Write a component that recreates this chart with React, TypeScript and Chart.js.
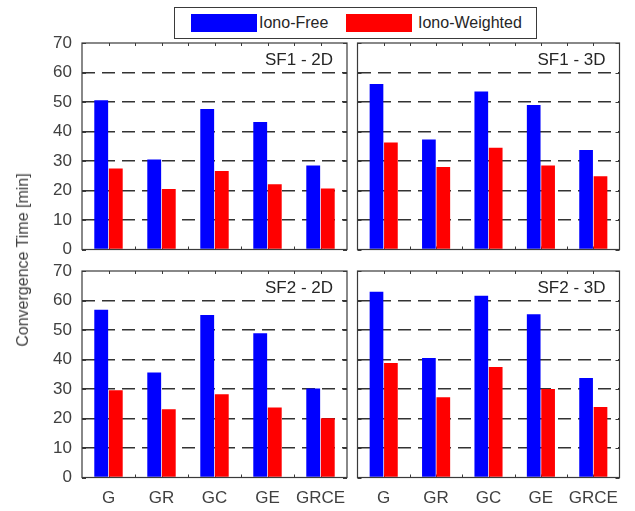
import React, { useEffect, useRef } from "react";
import { Chart, registerables } from "chart.js";

Chart.register(...registerables);

// ---------- data ----------
const categories = ["G", "GR", "GC", "GE", "GRCE"];
const seriesNames = ["Iono-Free", "Iono-Weighted"];
const yTickValues = [0, 10, 20, 30, 40, 50, 60, 70];
const panelTitles = ["SF1 - 2D", "SF1 - 3D", "SF2 - 2D", "SF2 - 3D"];

const sf1_2d_free = [50.6, 30.5, 47.6, 43.2, 28.5];
const sf1_2d_weighted = [27.5, 20.5, 26.6, 22.1, 20.7];
const sf1_3d_free = [56.1, 37.3, 53.6, 49.0, 33.7];
const sf1_3d_weighted = [36.3, 28.0, 34.5, 28.5, 24.8];
const sf2_2d_free = [56.9, 35.6, 55.1, 48.9, 30.2];
const sf2_2d_weighted = [29.6, 23.1, 28.2, 23.7, 20.1];
const sf2_3d_free = [63.0, 40.5, 61.6, 55.3, 33.7];
const sf2_3d_weighted = [38.8, 27.2, 37.5, 30.0, 23.9];

const yAxisTitle = "Convergence Time [min]";

// ---------- layout ----------
const W = 635;
const H = 511;
const FONT = "'Liberation Sans', Arial, Helvetica, sans-serif";
const BLUE = "#0000ff";
const RED = "#ff0000";
const AXIS = "#3a3a3a";
const TEXT = "#404040";

type Panel = {
  title: string;
  free: number[];
  weighted: number[];
  left: number;
  top: number;
  right: number;
  bottom: number;
  showY: boolean;
  showX: boolean;
};

const panels: Panel[] = [
  { title: panelTitles[0], free: sf1_2d_free, weighted: sf1_2d_weighted, left: 82, top: 43, right: 347, bottom: 249.5, showY: true, showX: false },
  { title: panelTitles[1], free: sf1_3d_free, weighted: sf1_3d_weighted, left: 357.5, top: 43, right: 619.5, bottom: 249.5, showY: false, showX: false },
  { title: panelTitles[2], free: sf2_2d_free, weighted: sf2_2d_weighted, left: 82, top: 271, right: 347, bottom: 477.5, showY: true, showX: true },
  { title: panelTitles[3], free: sf2_3d_free, weighted: sf2_3d_weighted, left: 357.5, top: 271, right: 619.5, bottom: 477.5, showY: false, showX: true },
];

const decorPlugin = {
  id: "panelDecor",
  beforeDatasetsDraw(chart: any) {
    const { ctx, chartArea } = chart;
    const x = chart.scales.x;
    const y = chart.scales.y;
    ctx.save();
    ctx.strokeStyle = AXIS;
    ctx.lineWidth = 1;
    const n = categories.length;
    const xs: number[] = [];
    for (let i = 0; i < n; i++) {
      xs.push(x.getPixelForValue(i));
      if (i < n - 1) xs.push((x.getPixelForValue(i) + x.getPixelForValue(i + 1)) / 2);
    }
    ctx.beginPath();
    xs.forEach((px) => {
      const p = Math.round(px) + 0.5;
      ctx.moveTo(p, chartArea.bottom);
      ctx.lineTo(p, chartArea.bottom - 3);
      ctx.moveTo(p, chartArea.top);
      ctx.lineTo(p, chartArea.top + 3);
    });
    yTickValues.forEach((v) => {
      const py = Math.round(y.getPixelForValue(v)) + 0.5;
      ctx.moveTo(chartArea.left, py);
      ctx.lineTo(chartArea.left + 4, py);
      ctx.moveTo(chartArea.right, py);
      ctx.lineTo(chartArea.right - 4, py);
    });
    ctx.stroke();
    ctx.restore();
  },
  afterDraw(chart: any, _args: any, opts: any) {
    const { ctx, chartArea } = chart;
    ctx.save();
    ctx.strokeStyle = AXIS;
    ctx.lineWidth = 1.2;
    ctx.strokeRect(chartArea.left, chartArea.top, chartArea.right - chartArea.left, chartArea.bottom - chartArea.top);
    ctx.fillStyle = "#262626";
    ctx.font = `17px ${FONT}`;
    ctx.textAlign = "right";
    ctx.textBaseline = "middle";
    ctx.fillText(opts.title, chartArea.right - 14, chartArea.top + 17);
    ctx.restore();
  },
};

function PanelChart({ p }: { p: Panel }) {
  const ref = useRef<HTMLCanvasElement | null>(null);
  useEffect(() => {
    if (!ref.current) return;
    const yw = p.showY ? 40 : 0;
    const xh = p.showX ? 30 : 0;
    const chart = new Chart(ref.current, {
      type: "bar",
      data: {
        labels: categories,
        datasets: [
          { label: seriesNames[0], data: p.free, backgroundColor: BLUE, borderWidth: 0, categoryPercentage: 0.55, barPercentage: 0.95 },
          { label: seriesNames[1], data: p.weighted, backgroundColor: RED, borderWidth: 0, categoryPercentage: 0.55, barPercentage: 0.95 },
        ],
      },
      options: {
        responsive: false,
        animation: false,
        events: [],
        layout: {
          padding: { left: p.left - yw, top: p.top, right: W - p.right, bottom: H - p.bottom - xh },
        },
        plugins: {
          legend: { display: false },
          tooltip: { enabled: false },
          title: { display: false },
          panelDecor: { title: p.title },
        } as any,
        scales: {
          x: {
            grid: { display: false, drawTicks: false },
            border: { display: false },
            ticks: {
              display: p.showX,
              padding: 11,
              color: TEXT,
              font: { size: 17, family: FONT },
              maxRotation: 0,
              minRotation: 0,
              autoSkip: false,
            },
            afterFit: (s: any) => {
              s.height = xh;
            },
          },
          y: {
            min: 0,
            max: 70,
            afterBuildTicks: (s: any) => {
              s.ticks = yTickValues.map((v) => ({ value: v }));
            },
            ticks: { display: p.showY, padding: 10, color: TEXT, font: { size: 17, family: FONT } },
            grid: {
              drawTicks: false,
              lineWidth: 1.5,
              color: (c: any) => (c.tick && (c.tick.value === 0 || c.tick.value === 70) ? "rgba(0,0,0,0)" : "#333333"),
            },
            border: { display: false, dash: [13, 7] },
            afterFit: (s: any) => {
              s.width = yw;
            },
          },
        },
      } as any,
      plugins: [decorPlugin],
    });
    return () => chart.destroy();
  }, [p]);
  return <canvas ref={ref} width={W} height={H} style={{ position: "absolute", left: 0, top: 0, width: W, height: H }} />;
}

export default function App() {
  return (
    <div style={{ position: "fixed", left: 0, top: 0, width: W, height: H, background: "#ffffff", fontFamily: FONT, overflow: "hidden" }}>
      {panels.map((p, i) => (
        <PanelChart key={i} p={p} />
      ))}
      <div
        style={{
          position: "absolute",
          left: 23,
          top: 260,
          transform: "translate(-50%, -50%) rotate(-90deg)",
          whiteSpace: "nowrap",
          fontSize: 16,
          color: TEXT,
          lineHeight: "18px",
        }}
      >
        {yAxisTitle}
      </div>
      <div
        style={{
          position: "absolute",
          left: 174,
          top: 7,
          width: 363,
          height: 32,
          boxSizing: "border-box",
          border: `1px solid ${AXIS}`,
          background: "#ffffff",
        }}
      >
        <div style={{ position: "absolute", left: 16, top: 6, width: 66, height: 18, background: BLUE }} />
        <div style={{ position: "absolute", left: 84, top: 0, height: 30, lineHeight: "30px", fontSize: 16, color: "#262626", whiteSpace: "nowrap" }}>
          {seriesNames[0]}
        </div>
        <div style={{ position: "absolute", left: 171, top: 6, width: 66, height: 18, background: RED }} />
        <div style={{ position: "absolute", left: 243, top: 0, height: 30, lineHeight: "30px", fontSize: 16, color: "#262626", whiteSpace: "nowrap" }}>
          {seriesNames[1]}
        </div>
      </div>
    </div>
  );
}
